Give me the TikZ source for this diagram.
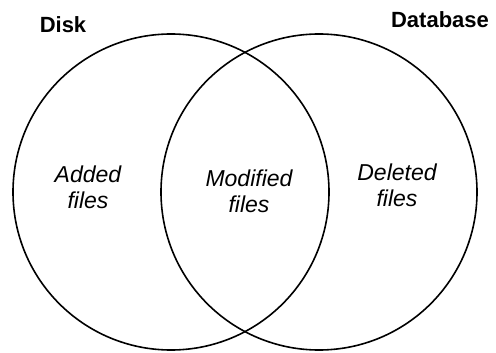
\documentclass[tikz,border=0pt]{standalone}
\usepackage{fontspec}
\setmainfont{Liberation Sans}
\usepackage{tikz}
\usetikzlibrary{positioning}
\tikzset{set/.style = {draw, line width=1.6pt},
         settitle/.style = {font=\fontsize{22}{26}\selectfont\bfseries},
         region/.style = {align=center, font=\fontsize{23}{26}\selectfont\itshape}}

\begin{document}
\begin{tikzpicture}[x=1pt, y=-1pt]
      \useasboundingbox (0, 0) rectangle (496, 353);

      \draw [set] (171, 192) circle [radius=158pt];
      \draw [set] (319, 192) circle [radius=158pt];

      \node [settitle] (disk) at (63, 25) {Disk};
      \node [settitle] (database) at (440, 20) {Database};

      \node [region] (added) at (88, 187) {Added\\files};
      \node [region] (modified) at (249, 191) {Modified\\files};
      \node [region] (deleted) at (397, 185) {Deleted\\files};
    \end{tikzpicture}
\end{document}
